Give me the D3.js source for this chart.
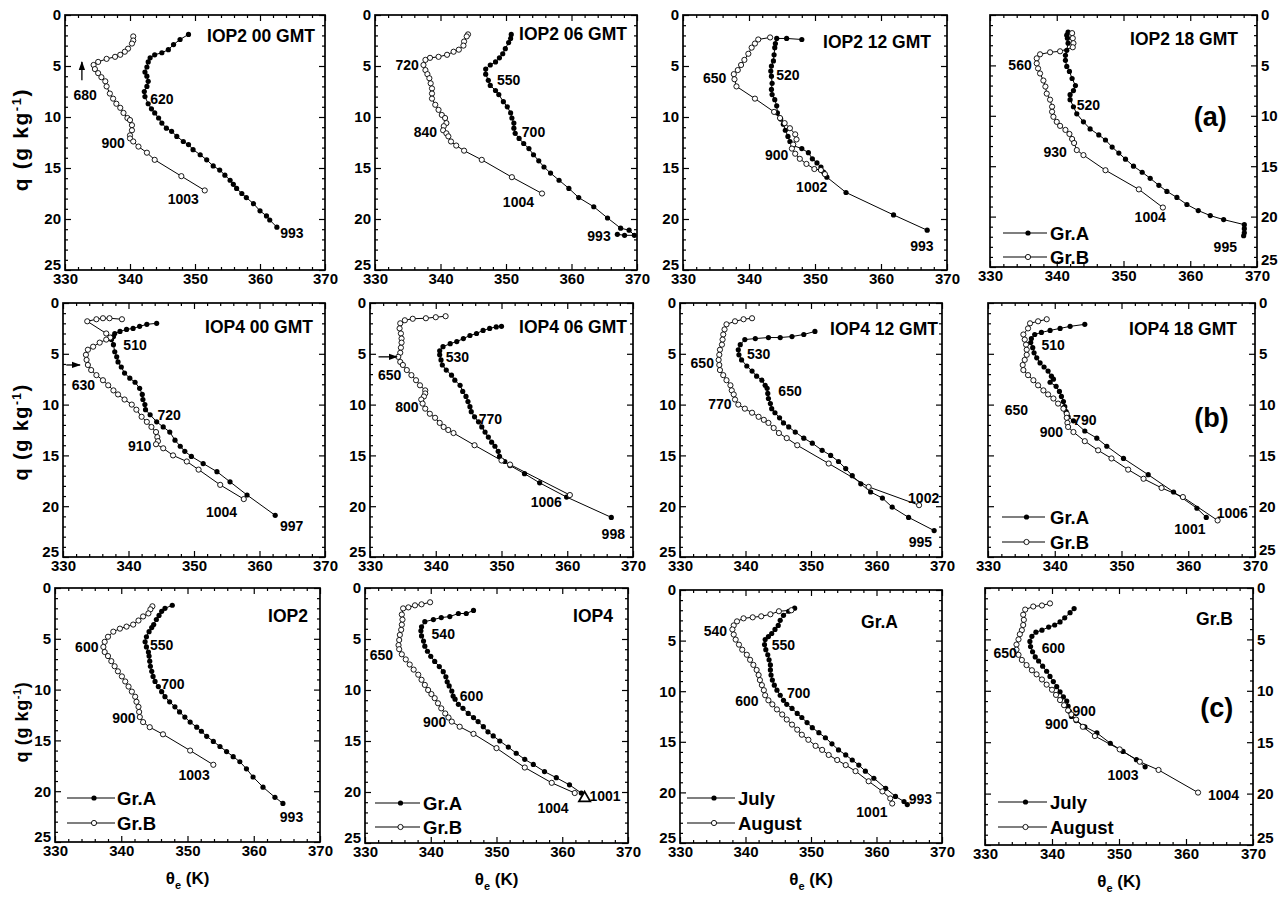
<!DOCTYPE html>
<html><head><meta charset="utf-8">
<script src="https://cdnjs.cloudflare.com/ajax/libs/d3/7.8.5/d3.min.js"></script>
<style>
body{margin:0;background:#fff}
svg{display:block}
text{font-family:"Liberation Sans",Arial,Helvetica,sans-serif;font-weight:bold;fill:#000}
</style>
</head><body>
<svg id="c" width="1283" height="897"></svg>
<script>
// ---------- axis ticks ----------
const xTicks = [330, 340, 350, 360, 370];
const xMinor = [332,334,336,338,342,344,346,348,352,354,356,358,362,364,366,368];
const yTicks = [0, 5, 10, 15, 20, 25];
const yMinor = [1,2,3,4,6,7,8,9,11,12,13,14,16,17,18,19,21,22,23,24];

// ---------- (a) IOP2 ----------
const iop2_00_grA = [[349.0,1.9],[347.7,2.4],[346.7,2.9],[345.9,3.4],[344.9,3.7],[343.8,3.9],[343.1,4.2],[342.8,4.6],[342.6,5.1],[342.3,5.6],[342.6,6.0],[342.8,6.5],[342.6,7.0],[342.2,7.5],[342.3,8.0],[342.8,8.7],[343.3,9.2],[343.8,9.6],[344.4,10.1],[344.9,10.6],[345.6,11.1],[346.4,11.4],[347.2,11.9],[348.2,12.4],[349.0,12.7],[349.7,13.2],[350.8,13.7],[351.8,14.2],[352.8,14.8],[353.8,15.2],[354.6,15.7],[355.4,16.2],[355.9,16.6],[356.4,17.0],[357.2,17.5],[357.9,17.9],[359.0,18.5],[360.0,19.2],[361.0,19.7],[361.5,20.1],[362.6,20.8]];
const iop2_00_grB = [[340.5,2.1],[340.5,2.5],[340.3,2.8],[339.7,3.3],[339.2,3.6],[338.5,3.9],[337.7,4.1],[336.4,4.3],[335.1,4.6],[334.4,4.9],[334.6,5.3],[335.1,5.7],[335.6,6.1],[336.2,6.5],[336.4,7.0],[336.9,7.7],[337.4,8.2],[337.9,8.7],[338.5,9.1],[339.0,9.6],[339.6,10.1],[340.0,10.3],[340.3,10.8],[340.3,11.3],[340.0,11.8],[340.0,12.1],[340.5,12.4],[341.3,12.9],[342.6,13.5],[343.8,14.2],[347.9,15.8],[351.5,17.2]];
const iop2_00_labels = [["680",333.1,7.8],["620",344.9,8.2],["900",337.4,12.5],["1003",348.2,18.0],["993",364.9,21.4]];

const iop2_06_grA = [[350.8,1.9],[350.7,2.3],[350.4,2.7],[349.9,3.3],[349.5,3.8],[349.0,4.2],[348.4,4.6],[347.6,4.9],[346.9,5.3],[346.9,5.8],[347.3,6.4],[347.6,6.9],[348.4,7.4],[348.9,7.8],[349.6,8.5],[350.2,9.0],[350.7,9.6],[350.9,10.1],[351.2,10.6],[351.2,11.1],[351.4,11.6],[352.0,12.1],[352.7,12.6],[353.5,13.1],[354.2,13.7],[355.0,14.3],[355.8,14.9],[356.8,15.5],[358.1,16.2],[359.6,17.0],[361.1,17.9],[363.4,18.8],[365.5,19.9],[367.5,20.9],[368.8,21.1],[369.6,21.6],[368.1,21.6],[367.0,21.5]];
const iop2_06_grB = [[344.2,1.9],[344.0,2.1],[343.6,2.6],[343.5,3.0],[342.8,3.4],[342.0,3.6],[341.0,3.9],[339.7,4.1],[338.4,4.2],[337.7,4.4],[337.4,4.9],[337.7,5.4],[338.0,5.8],[338.3,6.2],[338.5,6.7],[338.7,7.2],[338.7,7.7],[338.7,8.2],[339.2,8.8],[339.7,9.3],[340.2,9.8],[340.7,10.1],[340.9,10.6],[340.5,10.9],[340.4,11.3],[340.9,11.6],[341.2,11.9],[341.6,12.4],[342.4,12.8],[343.6,13.3],[346.3,14.2],[350.9,15.9],[355.5,17.5]];
const iop2_06_labels = [["720",334.9,4.9],["550",350.4,6.4],["840",337.7,11.5],["700",354.2,11.5],["1004",351.9,18.3],["993",364.2,21.7]];

const iop2_12_grA = [[348.0,2.4],[345.7,2.3],[344.2,2.3],[344.0,2.8],[343.9,3.2],[343.8,3.9],[343.7,4.5],[343.4,5.0],[343.3,5.5],[343.4,6.0],[343.5,6.7],[343.4,7.3],[343.5,7.8],[343.9,8.3],[344.2,8.9],[344.3,9.6],[344.8,10.2],[345.2,10.7],[345.5,11.3],[345.9,11.9],[346.2,12.4],[346.7,12.8],[348.0,13.1],[349.0,13.5],[349.6,14.1],[350.3,14.5],[350.9,14.9],[351.3,15.4],[351.8,15.9],[354.7,17.4],[361.9,19.6],[367.0,21.1]];
const iop2_12_grB = [[343.2,2.2],[341.4,2.4],[340.9,2.8],[340.4,3.2],[339.9,3.8],[339.3,4.4],[338.8,4.9],[338.3,5.4],[337.7,5.8],[337.8,6.3],[338.1,7.0],[340.9,8.2],[343.8,9.5],[344.7,10.1],[345.4,10.6],[346.2,11.1],[347.0,11.7],[347.2,12.2],[346.7,12.7],[346.5,13.1],[347.0,13.6],[347.7,14.1],[348.7,14.6],[349.9,15.1],[350.9,15.2],[351.5,15.6]];
const iop2_12_labels = [["650",334.8,6.2],["520",345.9,5.9],["900",344.2,13.7],["1002",349.5,16.9],["993",366.2,22.6]];

const iop2_18_grA = [[341.7,1.7],[341.5,2.0],[341.6,2.3],[341.7,2.8],[341.5,3.5],[341.3,4.0],[341.3,4.5],[341.5,5.1],[341.9,5.6],[342.3,6.3],[342.8,7.0],[342.5,7.5],[342.0,7.9],[342.0,8.4],[342.5,9.1],[343.0,9.8],[344.0,10.6],[345.0,11.3],[346.3,11.9],[347.3,12.4],[348.3,13.1],[349.3,13.7],[350.3,14.3],[351.5,15.0],[352.8,15.6],[354.0,16.2],[355.3,16.9],[356.5,17.5],[358.0,18.1],[359.5,18.8],[361.2,19.4],[363.0,19.9],[365.0,20.3],[368.1,20.8],[368.1,21.2],[368.1,21.6],[368.0,21.9]];
const iop2_18_grB = [[342.3,1.8],[342.4,2.3],[342.5,2.8],[342.4,3.2],[340.5,3.6],[339.0,3.7],[337.5,3.9],[337.0,4.3],[337.0,4.8],[337.2,5.3],[337.5,5.8],[338.0,6.5],[338.3,7.1],[338.5,7.8],[339.0,8.4],[339.3,9.1],[339.3,9.6],[339.5,10.1],[340.0,10.6],[340.5,11.0],[341.3,11.4],[341.9,11.8],[342.3,12.3],[342.6,12.7],[343.0,13.4],[344.0,13.9],[347.3,15.4],[352.3,17.3],[355.9,19.1]];
const iop2_18_labels = [["560",334.5,5.0],["520",344.75,8.9],["930",339.75,13.6],["1004",354.0,20.0],["995",365.25,23.0]];

// ---------- (b) IOP4 ----------
const iop4_00_grA = [[344.3,2.0],[342.8,2.1],[341.7,2.3],[340.7,2.5],[339.7,2.6],[338.7,2.8],[337.9,3.0],[337.7,3.3],[337.4,3.6],[337.7,4.1],[337.9,4.8],[338.2,5.3],[338.4,5.8],[338.9,6.3],[339.4,6.9],[340.2,7.4],[341.0,7.8],[341.7,8.4],[342.1,9.0],[342.2,9.5],[342.5,10.0],[342.6,10.5],[343.3,11.0],[344.3,11.7],[345.3,12.2],[346.3,12.7],[347.1,13.5],[347.9,14.1],[348.6,14.6],[349.6,15.1],[351.4,15.8],[353.5,16.6],[355.5,17.6],[358.1,18.9],[362.4,20.9]];
const iop4_00_grB = [[339.0,1.6],[337.1,1.5],[336.1,1.5],[335.1,1.6],[333.7,1.8],[336.6,3.0],[337.2,3.4],[336.6,3.6],[335.6,3.9],[334.6,4.3],[333.8,4.6],[333.5,5.1],[333.6,5.6],[333.8,6.1],[334.3,6.6],[335.1,7.1],[336.1,7.6],[336.9,8.1],[337.7,8.6],[338.4,9.0],[339.4,9.5],[340.5,10.0],[341.2,10.5],[342.0,11.2],[342.8,11.7],[343.5,12.2],[344.2,12.7],[344.4,13.2],[344.5,13.6],[344.2,13.9],[345.3,14.3],[346.8,15.0],[348.9,15.6],[350.7,16.4],[354.0,17.9],[357.6,19.3]];
const iop4_00_labels = [["510",341.0,4.1],["630",333.1,8.1],["720",346.2,11.0],["910",341.7,14.1],["1004",354.2,20.6],["997",364.9,21.9]];

const iop4_06_grA = [[350.0,2.3],[349.2,2.35],[348.2,2.5],[347.2,2.7],[346.2,3.0],[345.2,3.2],[344.2,3.5],[343.2,3.8],[342.2,4.0],[341.1,4.3],[340.6,4.7],[340.6,5.1],[340.8,5.6],[341.0,6.1],[341.6,6.6],[342.4,7.1],[342.9,7.6],[343.7,8.1],[344.1,8.7],[344.6,9.2],[344.9,9.7],[345.2,10.2],[345.4,10.7],[345.9,11.2],[346.5,11.7],[347.0,12.2],[347.5,12.7],[348.0,13.2],[348.5,13.7],[349.0,14.1],[349.5,14.6],[349.7,15.1],[350.5,15.6],[351.3,16.0],[353.5,16.8],[355.8,17.7],[359.9,19.1],[366.7,21.1]];
const iop4_06_grB = [[341.5,1.3],[340.0,1.4],[338.5,1.5],[336.5,1.55],[335.3,1.7],[334.6,2.0],[334.5,2.5],[334.7,3.0],[334.8,3.5],[334.8,3.9],[334.7,4.4],[334.6,4.9],[334.3,5.3],[334.6,5.8],[335.0,6.1],[335.6,6.6],[336.3,7.1],[337.0,7.6],[337.6,8.1],[338.4,8.6],[338.4,8.9],[338.2,9.2],[337.8,9.5],[338.0,9.9],[338.4,10.4],[339.1,10.9],[339.9,11.3],[340.6,11.8],[341.2,12.2],[341.9,12.5],[342.7,12.8],[345.9,14.0],[350.0,15.5],[351.3,15.9],[360.4,18.9]];
const iop4_06_labels = [["650",333.0,7.1],["530",343.3,5.3],["800",335.6,10.2],["770",348.3,11.4],["1006",356.8,19.6],["998",367.0,22.7]];

const iop4_12_grA = [[350.6,2.8],[348.9,3.1],[347.1,3.3],[345.3,3.4],[343.5,3.4],[341.5,3.5],[339.9,3.6],[339.2,4.1],[338.9,4.6],[339.0,5.1],[339.4,5.6],[340.2,6.2],[341.0,6.7],[341.7,7.2],[342.5,7.6],[343.0,8.1],[343.3,8.4],[343.4,8.9],[343.5,9.4],[343.8,9.9],[344.0,10.4],[344.5,10.8],[345.2,11.3],[345.8,11.8],[346.6,12.2],[347.6,12.7],[348.9,13.3],[350.2,13.8],[351.7,14.5],[353.0,15.0],[354.2,15.6],[355.3,16.3],[356.3,17.0],[357.6,17.8],[359.1,18.6],[360.9,19.2],[362.4,20.1],[364.9,21.1],[368.8,22.4]];
const iop4_12_grB = [[341.0,1.5],[339.7,1.6],[338.4,1.8],[337.1,2.1],[336.8,2.6],[336.6,3.1],[336.5,3.6],[336.4,4.1],[336.1,4.6],[336.0,5.1],[335.9,5.6],[336.0,6.1],[336.1,6.6],[336.6,7.1],[337.1,7.6],[337.7,8.1],[337.9,8.6],[338.2,9.0],[338.4,9.5],[338.9,10.0],[339.9,10.4],[341.0,10.8],[342.0,11.2],[342.8,11.5],[343.5,11.8],[344.3,12.3],[345.1,12.8],[346.3,13.3],[347.9,14.0],[352.7,15.8],[358.8,18.1],[366.5,19.9]];
const iop4_12_labels = [["650",333.4,5.9],["530",342.0,5.0],["650",346.8,8.7],["770",336.1,9.9],["1002",367.2,19.2],["995",366.7,23.5]];

const iop4_18_grA = [[344.5,2.1],[342.3,2.3],[340.8,2.5],[339.3,2.7],[338.0,2.9],[337.0,3.1],[336.5,3.5],[336.4,3.9],[336.7,4.4],[336.9,4.9],[337.3,5.4],[337.8,5.9],[338.4,6.3],[339.0,6.7],[339.5,7.2],[339.8,7.5],[339.3,7.8],[340.2,8.2],[340.7,8.7],[341.0,9.2],[341.3,9.7],[341.5,10.2],[341.7,10.7],[342.0,11.2],[342.8,11.6],[344.5,12.6],[346.3,13.3],[347.8,14.1],[350.3,15.3],[354.0,16.9],[357.8,18.6],[361.3,20.2],[362.7,21.1]];
const iop4_18_grB = [[338.8,1.6],[337.5,1.8],[336.3,2.0],[336.0,2.5],[335.3,3.1],[335.5,3.6],[335.7,4.1],[335.8,4.6],[335.8,5.1],[335.5,5.6],[335.2,6.1],[335.3,6.6],[336.0,7.1],[336.8,7.6],[337.5,8.1],[338.3,8.6],[339.0,9.0],[339.8,9.4],[340.5,9.9],[341.3,10.4],[341.8,10.9],[341.8,11.3],[341.9,11.8],[342.0,12.2],[342.8,12.7],[344.5,13.6],[346.5,14.5],[348.5,15.3],[351.0,16.4],[353.3,17.3],[356.0,18.2],[359.2,19.1],[364.4,21.4]];
const iop4_18_labels = [["510",339.75,4.1],["650",334.25,10.5],["790",344.5,11.5],["900",339.5,12.7],["1006",366.6,20.7],["1001",360.25,22.2]];

// ---------- (c) composites ----------
const iop2_grA = [[347.7,1.7],[346.6,2.0],[346.1,2.3],[345.7,2.7],[345.3,3.1],[344.9,3.6],[344.6,3.9],[344.2,4.3],[343.8,4.8],[343.6,5.3],[343.8,5.8],[344.1,6.3],[344.2,6.7],[344.3,7.2],[344.4,7.7],[344.6,8.2],[344.8,8.7],[345.1,9.2],[345.6,9.7],[346.1,10.2],[346.6,10.7],[347.3,11.2],[348.1,11.7],[348.8,12.2],[349.6,12.7],[350.4,13.2],[351.4,13.7],[352.1,14.1],[352.9,14.6],[353.9,15.1],[354.9,15.6],[355.9,16.1],[356.9,16.6],[357.9,17.1],[358.9,17.8],[359.9,18.6],[361.4,19.6],[363.2,20.6],[364.4,21.2]];
const iop2_grB = [[344.7,1.8],[344.4,2.1],[344.1,2.5],[343.3,2.8],[342.6,3.2],[341.8,3.6],[340.8,3.8],[339.8,4.0],[338.8,4.3],[338.0,4.8],[337.5,5.3],[337.3,5.8],[337.5,6.3],[338.0,6.7],[338.5,7.2],[339.0,7.7],[339.5,8.2],[340.1,8.7],[340.6,9.2],[341.1,9.7],[341.6,10.2],[342.1,10.7],[342.3,11.2],[342.6,11.7],[342.7,12.2],[342.8,12.7],[343.3,13.2],[344.3,13.7],[346.3,14.4],[350.4,16.0],[353.9,17.4]];
const iop2_labels = [["600",334.8,5.8],["550",346.1,5.6],["700",347.8,9.4],["900",340.4,12.8],["1003",351.0,18.4],["993",365.7,22.5]];

const iop4_grA = [[346.5,2.2],[345.4,2.5],[344.2,2.5],[342.9,2.8],[341.6,2.9],[340.4,3.1],[339.1,3.3],[338.6,3.8],[338.5,4.2],[338.6,4.7],[338.9,5.2],[339.1,5.7],[339.5,6.2],[340.0,6.7],[340.6,7.2],[341.3,7.7],[341.9,8.2],[342.3,8.7],[342.5,9.2],[342.8,9.6],[343.2,10.1],[343.4,10.6],[343.7,10.9],[344.2,11.4],[344.9,11.8],[345.7,12.3],[346.5,12.7],[347.2,13.1],[348.0,13.6],[348.7,14.1],[349.5,14.5],[350.5,15.0],[351.8,15.6],[353.0,16.2],[354.3,16.8],[355.6,17.3],[357.3,18.0],[359.1,18.6],[361.1,19.3],[362.9,20.1]];
const iop4_grB = [[339.9,1.4],[338.6,1.6],[337.6,1.7],[336.6,1.9],[335.8,2.0],[335.6,2.6],[335.7,3.1],[335.6,3.6],[335.5,4.1],[335.3,4.6],[335.2,5.1],[335.1,5.6],[335.2,6.0],[335.6,6.5],[336.2,7.0],[336.8,7.5],[337.4,8.0],[338.1,8.5],[338.6,9.0],[339.1,9.5],[339.6,10.0],[340.1,10.4],[340.6,10.8],[341.1,11.3],[341.6,11.8],[342.2,12.3],[342.7,12.7],[343.2,13.1],[344.4,13.6],[346.5,14.3],[350.0,15.7],[354.3,17.6],[358.4,19.1],[361.9,20.1]];
const iop4_triangle = [[363.4,20.6]];
const iop4_labels = [["540",341.9,4.5],["650",332.5,6.6],["600",346.2,10.6],["900",340.6,13.1],["1001",366.5,20.4],["1004",358.6,21.6]];

const grA_july = [[347.5,1.8],[346.6,2.1],[345.8,2.5],[345.3,3.0],[345.0,3.5],[344.5,3.9],[344.0,4.3],[343.5,4.6],[343.0,4.9],[342.9,5.4],[343.1,5.9],[343.4,6.4],[343.6,6.9],[343.8,7.4],[343.8,7.9],[343.9,8.4],[344.1,8.9],[344.4,9.4],[344.8,9.9],[345.3,10.4],[345.8,10.9],[346.3,11.3],[347.1,11.7],[347.9,12.2],[348.6,12.6],[349.4,13.1],[350.2,13.6],[351.2,14.1],[352.2,14.6],[353.2,15.2],[354.2,15.8],[355.3,16.3],[356.3,16.8],[357.3,17.3],[358.3,17.9],[359.6,18.6],[361.4,19.6],[362.9,20.4],[364.2,20.9],[364.7,21.2]];
const grA_august = [[347.0,2.0],[345.1,2.1],[343.8,2.4],[342.4,2.6],[341.1,2.7],[339.7,2.8],[338.7,3.1],[338.2,3.5],[338.0,3.9],[338.2,4.4],[338.5,4.9],[339.0,5.4],[339.5,5.9],[340.2,6.4],[340.7,6.9],[341.2,7.4],[341.7,7.9],[342.0,8.4],[342.2,8.9],[342.5,9.4],[342.8,9.9],[343.0,10.4],[343.5,10.9],[344.1,11.3],[344.8,11.8],[345.6,12.3],[346.3,12.8],[347.1,13.3],[347.9,13.8],[348.6,14.3],[349.6,14.8],[350.7,15.4],[351.7,15.8],[352.7,16.3],[354.0,16.8],[355.3,17.3],[356.8,17.9],[358.8,18.9],[360.9,19.9],[362.1,20.6],[362.4,21.1]];
const grA_labels = [["540",335.4,4.1],["550",345.8,5.4],["700",348.1,10.2],["600",340.2,11.0],["993",366.7,20.7],["1001",359.3,21.9]];

const grB_july = [[343.3,2.0],[342.7,2.4],[341.9,2.9],[341.2,3.3],[340.4,3.6],[339.5,3.8],[338.5,4.1],[337.6,4.3],[337.0,4.7],[336.7,5.2],[336.8,5.7],[337.1,6.2],[337.5,6.7],[338.0,7.1],[338.6,7.6],[339.2,8.1],[339.7,8.6],[340.2,9.1],[340.7,9.6],[341.2,10.1],[341.7,10.6],[342.2,11.0],[342.4,11.5],[342.6,12.0],[342.9,12.5],[343.6,12.9],[344.9,13.5],[346.7,14.1],[348.7,15.1],[350.6,15.9],[352.6,16.7],[353.9,17.4]];
const grB_august = [[339.7,1.5],[338.5,1.7],[337.2,1.8],[336.0,2.1],[335.7,2.6],[335.8,3.1],[335.7,3.6],[335.5,4.1],[335.2,4.5],[335.0,5.0],[334.7,5.5],[334.7,6.0],[335.0,6.5],[335.5,7.0],[336.2,7.5],[337.0,8.0],[337.7,8.4],[338.5,8.9],[339.2,9.4],[340.0,9.9],[340.6,10.4],[341.2,10.9],[341.8,11.4],[342.4,11.9],[342.9,12.3],[343.6,12.8],[344.6,13.5],[346.4,14.4],[350.1,15.7],[353.1,16.9],[355.9,17.7],[361.8,19.9]];
const grB_labels = [["650",333.0,6.3],["600",340.2,5.8],["900",344.8,12.0],["900",340.7,13.2],["1003",350.6,18.2],["1004",365.6,20.1]];

const legendGroups = ["Gr.A", "Gr.B"];
const legendMonths = ["July", "August"];
const panelLetters = [["(a)",363.0,10.1],["(b)",363.5,11.3],["(c)",364.6,11.7]];

// ---------- layout (positions/styles) ----------
const panels = [
 {f:[65,325,15,270],  t:["IOP2 00 GMT",10,27], A:iop2_00_grA, B:iop2_00_grB, L:iop2_00_labels, arrows:[[[332.6,6.4],[332.6,4.6]]]},
 {f:[375,637,15,270], t:["IOP2 06 GMT",10,25], A:iop2_06_grA, B:iop2_06_grB, L:iop2_06_labels},
 {f:[683,947,15,270], t:["IOP2 12 GMT",16,33], A:iop2_12_grA, B:iop2_12_grB, L:iop2_12_labels},
 {f:[990,1257,15,267],t:["IOP2 18 GMT",19,30], A:iop2_18_grA, B:iop2_18_grB, L:iop2_18_labels, right:true, letter:0, leg:{names:legendGroups,x:[13,57,60],y:[34,10]}},
 {f:[63,325,303,557], t:["IOP4 00 GMT",12,30], A:iop4_00_grA, B:iop4_00_grB, L:iop4_00_labels, arrows:[[[330.5,6.1],[332.6,6.1]]]},
 {f:[370,633,303,557],t:["IOP4 06 GMT",6,30],  A:iop4_06_grA, B:iop4_06_grB, L:iop4_06_labels, arrows:[[[331.3,5.3],[334.1,5.3]]]},
 {f:[680,942,303,557],t:["IOP4 12 GMT",4,32],  A:iop4_12_grA, B:iop4_12_grB, L:iop4_12_labels},
 {f:[988,1255,303,557],t:["IOP4 18 GMT",18,32],A:iop4_18_grA, B:iop4_18_grB, L:iop4_18_labels, right:true, letter:1, leg:{names:legendGroups,x:[14,57,62],y:[40,15]}},
 {f:[55,320,588,842], t:["IOP2",12,34], A:iop2_grA, B:iop2_grB, L:iop2_labels, xt:true, leg:{names:legendGroups,x:[12,60,62],y:[44,19]}},
 {f:[365,628,588,843],t:["IOP4",15,34], A:iop4_grA, B:iop4_grB, L:iop4_labels, xt:true, tri:iop4_triangle, leg:{names:legendGroups,x:[10,55,58],y:[40,16]}},
 {f:[680,942,590,843],t:["Gr.A",44,38], A:grA_july, B:grA_august, L:grA_labels, xt:true, leg:{names:legendMonths,x:[7,55,58],y:[45,20]}},
 {f:[985,1253,588,845],t:["Gr.B",20,37], A:grB_july, B:grB_august, L:grB_labels, xt:true, right:true, letter:2, leg:{names:legendMonths,x:[13,62,65],y:[43,18]}}
];
const yTitleRows = [{p:0,fs:21,ls:1.6,dy:-3},{p:4,fs:20,ls:1.4,dy:2},{p:8,fs:18,ls:0.6,dy:7}];

const svg = d3.select("#c");
svg.append("rect").attr("width",1283).attr("height",897).attr("fill","#fff");
const defs = svg.append("defs");
defs.append("marker").attr("id","ah").attr("viewBox","0 0 10 10").attr("refX",9).attr("refY",5)
  .attr("markerWidth",7).attr("markerHeight",7).attr("orient","auto")
  .append("path").attr("d","M0,1.5 L10,5 L0,8.5 Z").attr("fill","#000");

const R = 2.6;
panels.forEach((p, i) => {
  const [x0,x1,y0,y1] = p.f;
  const x = d3.scaleLinear().domain([330,370]).range([x0,x1]);
  const y = d3.scaleLinear().domain([0,25]).range([y0,y1]);
  const g = svg.append("g");

  function styleAxis(sel, showText){
    sel.select(".domain").remove();
    sel.selectAll("line").attr("stroke","#000").attr("stroke-width",1.2);
    sel.selectAll("text").attr("font-size",15).attr("font-family",'"Liberation Sans",Arial,sans-serif').attr("font-weight","bold").attr("fill","#000");
    if(!showText) sel.selectAll("text").remove();
  }
  // bottom
  g.append("g").attr("transform",`translate(0,${y1})`)
    .call(d3.axisBottom(x).tickValues(xTicks).tickSizeInner(-6).tickSizeOuter(0).tickPadding(3).tickFormat(d3.format("d")))
    .call(s=>styleAxis(s,true));
  g.append("g").attr("transform",`translate(0,${y1})`)
    .call(d3.axisBottom(x).tickValues(xMinor).tickSize(-3).tickFormat(""))
    .call(s=>styleAxis(s,false));
  // top
  g.append("g").attr("transform",`translate(0,${y0})`)
    .call(d3.axisTop(x).tickValues(xTicks).tickSizeInner(-6).tickSizeOuter(0).tickFormat(""))
    .call(s=>styleAxis(s,false));
  g.append("g").attr("transform",`translate(0,${y0})`)
    .call(d3.axisTop(x).tickValues(xMinor).tickSize(-3).tickFormat(""))
    .call(s=>styleAxis(s,false));
  // left
  g.append("g").attr("transform",`translate(${x0},0)`)
    .call(d3.axisLeft(y).tickValues(yTicks).tickSizeInner(-6).tickSizeOuter(0).tickPadding(4))
    .call(s=>styleAxis(s,!p.right))
    .call(s=>s.selectAll(".tick").filter(d=>d===25).select("text").attr("dy","-0.05em"));
  g.append("g").attr("transform",`translate(${x0},0)`)
    .call(d3.axisLeft(y).tickValues(yMinor).tickSize(-3).tickFormat(""))
    .call(s=>styleAxis(s,false));
  // right
  g.append("g").attr("transform",`translate(${x1},0)`)
    .call(d3.axisRight(y).tickValues(yTicks).tickSizeInner(-6).tickSizeOuter(0).tickPadding(4))
    .call(s=>styleAxis(s,!!p.right))
    .call(s=>s.selectAll(".tick").filter(d=>d===25).select("text").attr("dy","-0.15em"));
  g.append("g").attr("transform",`translate(${x1},0)`)
    .call(d3.axisRight(y).tickValues(yMinor).tickSize(-3).tickFormat(""))
    .call(s=>styleAxis(s,false));

  // frame
  g.append("rect").attr("x",x0).attr("y",y0).attr("width",x1-x0).attr("height",y1-y0)
    .attr("fill","none").attr("stroke","#000").attr("stroke-width",1.7);

  const line = d3.line().x(d=>x(d[0])).y(d=>y(d[1]));
  const clip = "clip"+i;
  defs.append("clipPath").attr("id",clip).append("rect").attr("x",x0-4).attr("y",y0).attr("width",x1-x0+8).attr("height",y1-y0);
  const pg = g.append("g").attr("clip-path",`url(#${clip})`);
  [p.A, p.B].forEach(s => pg.append("path").attr("d",line(s)).attr("fill","none").attr("stroke","#000").attr("stroke-width",1));
  pg.selectAll("circle.a").data(p.A).join("circle").attr("class","a")
    .attr("cx",d=>x(d[0])).attr("cy",d=>y(d[1])).attr("r",R).attr("fill","#000");
  pg.selectAll("circle.b").data(p.B).join("circle").attr("class","b")
    .attr("cx",d=>x(d[0])).attr("cy",d=>y(d[1])).attr("r",R).attr("fill","#fff").attr("stroke","#000").attr("stroke-width",0.9);
  if(p.tri){
    pg.selectAll("path.tri").data(p.tri).join("path").attr("class","tri")
      .attr("d",d3.symbol(d3.symbolTriangle,55)).attr("transform",d=>`translate(${x(d[0])},${y(d[1])})`)
      .attr("fill","#fff").attr("stroke","#000").attr("stroke-width",1.8);
  }
  // arrows
  (p.arrows||[]).forEach(a => {
    g.append("line").attr("x1",x(a[0][0])).attr("y1",y(a[0][1])).attr("x2",x(a[1][0])).attr("y2",y(a[1][1]))
      .attr("stroke","#000").attr("stroke-width",1.3).attr("marker-end","url(#ah)");
  });
  // annotations
  g.selectAll("text.lab").data(p.L).join("text").attr("class","lab")
    .attr("x",d=>x(d[1])).attr("y",d=>y(d[2])).attr("text-anchor","middle").attr("dominant-baseline","central")
    .attr("font-size",14).text(d=>d[0]);
  // title
  g.append("text").attr("x",x1-p.t[1]).attr("y",y0+p.t[2]).attr("text-anchor","end").attr("font-size",17.5).text(p.t[0]);
  // panel letter
  if(p.letter!==undefined){
    const L = panelLetters[p.letter];
    g.append("text").attr("x",x(L[1])).attr("y",y(L[2])).attr("text-anchor","middle").attr("dominant-baseline","central")
      .attr("font-size",27).text(L[0]);
  }
  // legend
  if(p.leg){
    const lg = p.leg;
    lg.names.forEach((nm, k) => {
      const yy = y1 - lg.y[k];
      g.append("line").attr("x1",x0+lg.x[0]).attr("x2",x0+lg.x[1]).attr("y1",yy).attr("y2",yy).attr("stroke","#000").attr("stroke-width",1.2);
      const c = g.append("circle").attr("cx",x0+(lg.x[0]+lg.x[1])/2+3).attr("cy",yy).attr("r",R);
      if(k===0) c.attr("fill","#000"); else c.attr("fill","#fff").attr("stroke","#000").attr("stroke-width",0.9);
      g.append("text").attr("x",x0+lg.x[2]).attr("y",yy).attr("dominant-baseline","central").attr("font-size",18.5).text(nm);
    });
  }
  // x title
  if(p.xt){
    const t = svg.append("text").attr("x",(x0+x1)/2).attr("y",y1+42).attr("text-anchor","middle").attr("font-size",17);
    t.append("tspan").text("θ");
    t.append("tspan").attr("font-size",11).attr("dy",5).text("e");
    t.append("tspan").attr("dy",-5).text(" (K)");
  }
});

// y titles
yTitleRows.forEach(r => {
  const p = panels[r.p];
  const cy = (p.f[2]+p.f[3])/2 + r.dy;
  const t = svg.append("text").attr("transform",`translate(28,${cy}) rotate(-90)`).attr("text-anchor","middle")
    .attr("font-size",r.fs).attr("letter-spacing",r.ls);
  t.append("tspan").text("q (g kg");
  t.append("tspan").attr("font-size",Math.round(r.fs*0.62)).attr("dy",-7).text("-1");
  t.append("tspan").attr("dy",7).text(")");
});
</script>
</body></html>
